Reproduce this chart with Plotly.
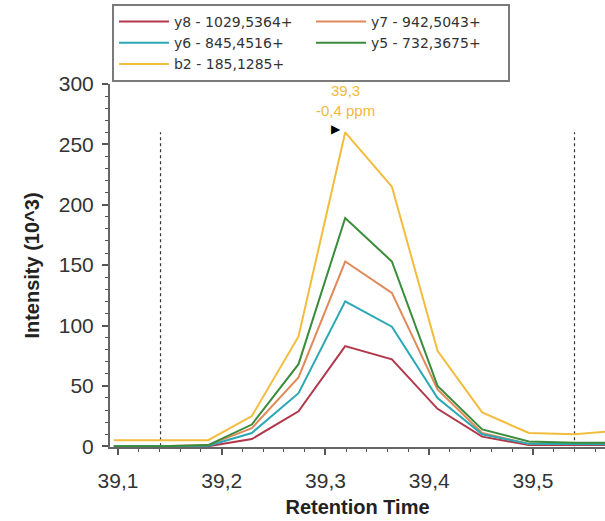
import plotly.graph_objects as go

# Retention times (min) of the sampled scans
times = [39.096, 39.141, 39.187, 39.229, 39.274, 39.319, 39.364, 39.408, 39.451, 39.496, 39.540, 39.585]

# Intensities (10^3) per transition
series_names = ["y8 - 1029,5364+", "y7 - 942,5043+", "y6 - 845,4516+", "y5 - 732,3675+", "b2 - 185,1285+"]
y8 = [0, 0, 0, 6, 29, 83, 72, 31, 8, 1, 1, 1]
y7 = [0, 0, 1, 15, 57, 153, 127, 47, 11, 2, 2, 2]
y6 = [0, 0, 0.5, 11, 44, 120, 99, 40, 10, 2, 2, 1.5]
y5 = [0, 0, 1, 18, 68, 189, 153, 50, 14, 4, 3, 3]
b2 = [5, 5, 5, 25, 91, 260, 215, 79, 28, 11, 10, 13]

# Integration boundaries
boundary_times = [39.141, 39.540]
boundary_top = 260

# Peak annotation
peak_time = 39.319
peak_value = 260
peak_label = "39,3<br>-0,4 ppm"

colors = ["#b0384a", "#e08a5a", "#2aa8b4", "#3a8c3a", "#f2bc3c"]

fig = go.Figure()

for bt in boundary_times:
    fig.add_trace(go.Scatter(
        x=[bt, bt], y=[0, boundary_top], mode="lines",
        line=dict(color="#333333", width=1.2, dash="dot"),
        showlegend=False, hoverinfo="skip"))

for name, vals, col in zip(series_names, [y8, y7, y6, y5, b2], colors):
    fig.add_trace(go.Scatter(
        x=times, y=vals, mode="lines", name=name,
        line=dict(color=col, width=2)))

fig.add_annotation(
    x=peak_time, y=peak_value, xref="x", yref="y",
    text=peak_label, showarrow=False, yanchor="bottom", yshift=11,
    font=dict(family="Liberation Sans, Arial, sans-serif", size=15, color="#f2b840"))
fig.add_annotation(
    x=peak_time, y=peak_value, xref="x", yref="y",
    text="\u25B6", showarrow=False, xanchor="right", yanchor="middle",
    xshift=-2, yshift=3,
    font=dict(family="DejaVu Sans", size=12, color="#000000"))

xrange = [39.0923, 39.5694]
yrange = [-0.6, 300]
tickfont = dict(family="Liberation Sans, Arial, sans-serif", size=21, color="#333333")
titlefont = dict(family="Liberation Sans, Arial, sans-serif", size=20, color="#222222")

fig.update_layout(
    width=605, height=521,
    margin=dict(l=110, r=0, t=84, b=74, autoexpand=False),
    paper_bgcolor="white", plot_bgcolor="white",
    separators=", ",
    showlegend=True,
    legend=dict(
        orientation="h", x=0.004, y=1.2204, xanchor="left", yanchor="top",
        entrywidth=132, entrywidthmode="pixels", itemwidth=50,
        bordercolor="#7a7a7a", borderwidth=2, bgcolor="white",
        font=dict(family="DejaVu Sans, Liberation Sans, sans-serif", size=14, color="#333333"),
        tracegroupgap=0),
    xaxis=dict(
        range=xrange, tickvals=[39.1, 39.2, 39.3, 39.4, 39.5], tickformat=".1f",
        showgrid=False, zeroline=False, showline=True, linecolor="#666666", linewidth=2,
        ticks="outside", ticklen=6, tickwidth=1.5, tickcolor="#555555",
        minor=dict(dtick=0.02, tick0=39.1, ticks="outside", ticklen=3, tickwidth=1, tickcolor="#555555"),
        tickfont=tickfont, ticklabelstandoff=8,
        title=dict(text="<b>Retention Time</b>", font=titlefont, standoff=9)),
    xaxis2=dict(
        range=xrange, overlaying="x", anchor="y", side="bottom",
        tickvals=[39.1, 39.2, 39.3, 39.4, 39.5], showticklabels=False,
        showgrid=False, zeroline=False, showline=False,
        ticks="inside", ticklen=6, tickwidth=1.5, tickcolor="#555555",
        minor=dict(dtick=0.02, tick0=39.1, ticks="inside", ticklen=3, tickwidth=1, tickcolor="#555555")),
    yaxis=dict(
        range=yrange, tickvals=[0, 50, 100, 150, 200, 250, 300],
        showgrid=False, zeroline=False, showline=True, linecolor="#666666", linewidth=2,
        ticks="outside", ticklen=6, tickwidth=1.5, tickcolor="#555555",
        minor=dict(dtick=10, tick0=0, ticks="outside", ticklen=3, tickwidth=1, tickcolor="#555555"),
        tickfont=tickfont, ticklabelstandoff=4,
        title=dict(text="<b>Intensity (10^3)</b>", font=titlefont, standoff=14)),
    yaxis2=dict(
        range=yrange, overlaying="y", anchor="x", side="left",
        tickvals=[0, 50, 100, 150, 200, 250, 300], showticklabels=False,
        showgrid=False, zeroline=False, showline=False,
        ticks="inside", ticklen=6, tickwidth=1.5, tickcolor="#555555",
        minor=dict(dtick=10, tick0=0, ticks="inside", ticklen=3, tickwidth=1, tickcolor="#555555")),
)

fig.write_html("out.html", config={"displayModeBar": False},
               post_script="document.body.style.margin='0px';")
